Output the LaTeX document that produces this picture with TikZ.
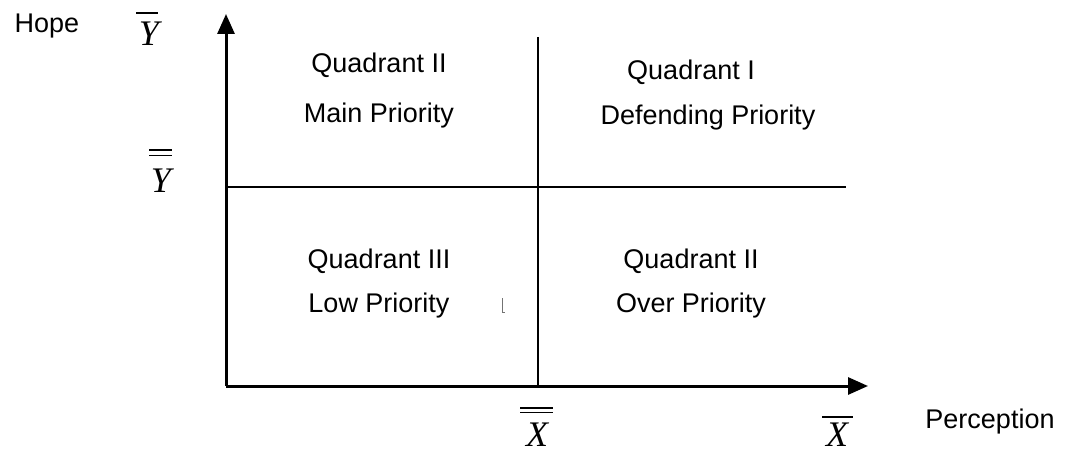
\documentclass[tikz,border=0pt]{standalone}
\usepackage{fontspec}
\setmainfont{Liberation Sans}
\newfontfamily\tms{Liberation Serif}
\usetikzlibrary{arrows.meta}
\begin{document}
\begin{tikzpicture}[x=1pt,y=-1pt,
  lbl/.style={font=\fontsize{27}{30}\selectfont, inner sep=0pt, anchor=base},
  mth/.style={font=\fontsize{36}{40}\selectfont\tms\itshape, inner sep=0pt, anchor=base},
  axis/.style={line width=3pt, -{Triangle[length=20pt,width=17pt]}},
  divline/.style={line width=2.6pt},
  barline/.style={line width=1.7pt}]
\useasboundingbox (0,0) rectangle (1067,454);
% axes
\coordinate (O) at (226,386);
\coordinate (ytop) at (226,14);
\coordinate (xend) at (868,386);
\draw[axis] (O) -- (ytop);
\draw[axis] (O) -- (xend);
% dividing lines
\coordinate (vt) at (538,37);
\coordinate (vb) at (538,386);
\coordinate (hl) at (226,187);
\coordinate (hr) at (846,187);
\draw[divline] (vt) -- (vb);
\draw[divline] (hl) -- (hr);
% quadrant labels
\node[lbl] (q2a) at (379,73) {Quadrant II};
\node[lbl] (q2b) at (379,123) {Main Priority};
\node[lbl] (q1a) at (691,80) {Quadrant I};
\node[lbl] (q1b) at (708,125) {Defending Priority};
\node[lbl] (q3a) at (379,268) {Quadrant III};
\node[lbl] (q3b) at (379,312) {Low Priority};
\node[lbl] (q4a) at (691,268) {Quadrant II};
\node[lbl] (q4b) at (691,312) {Over Priority};
% stray mark
\coordinate (m1) at (502,298);
\coordinate (m2) at (502,312);
\coordinate (m3) at (504.5,312);
\draw[line width=1pt, black!55] (m1) -- (m2) -- (m3);
% axis names
\node[lbl] (hope) at (47,33) {Hope};
\node[lbl] (perc) at (990,428) {Perception};
% math labels
\node[mth] (ybar) at (149,46) {Y};
\node[mth] (ydbar) at (161,193) {Y};
\node[mth] (xdbar) at (537,446) {X};
\node[mth] (xbar) at (837,446) {X};
% bars
\coordinate (b1a) at (136,13);   \coordinate (b1b) at (158,13);
\coordinate (b2a) at (149,150);  \coordinate (b2b) at (172,150);
\coordinate (b3a) at (149,155.5);\coordinate (b3b) at (172,155.5);
\coordinate (b4a) at (520,408);  \coordinate (b4b) at (553,408);
\coordinate (b5a) at (520,412.5);\coordinate (b5b) at (553,412.5);
\coordinate (b6a) at (822,417);  \coordinate (b6b) at (853,417);
\draw[barline] (b1a) -- (b1b);
\draw[barline] (b2a) -- (b2b);
\draw[barline] (b3a) -- (b3b);
\draw[barline] (b4a) -- (b4b);
\draw[barline] (b5a) -- (b5b);
\draw[barline] (b6a) -- (b6b);
\end{tikzpicture}
\end{document}
